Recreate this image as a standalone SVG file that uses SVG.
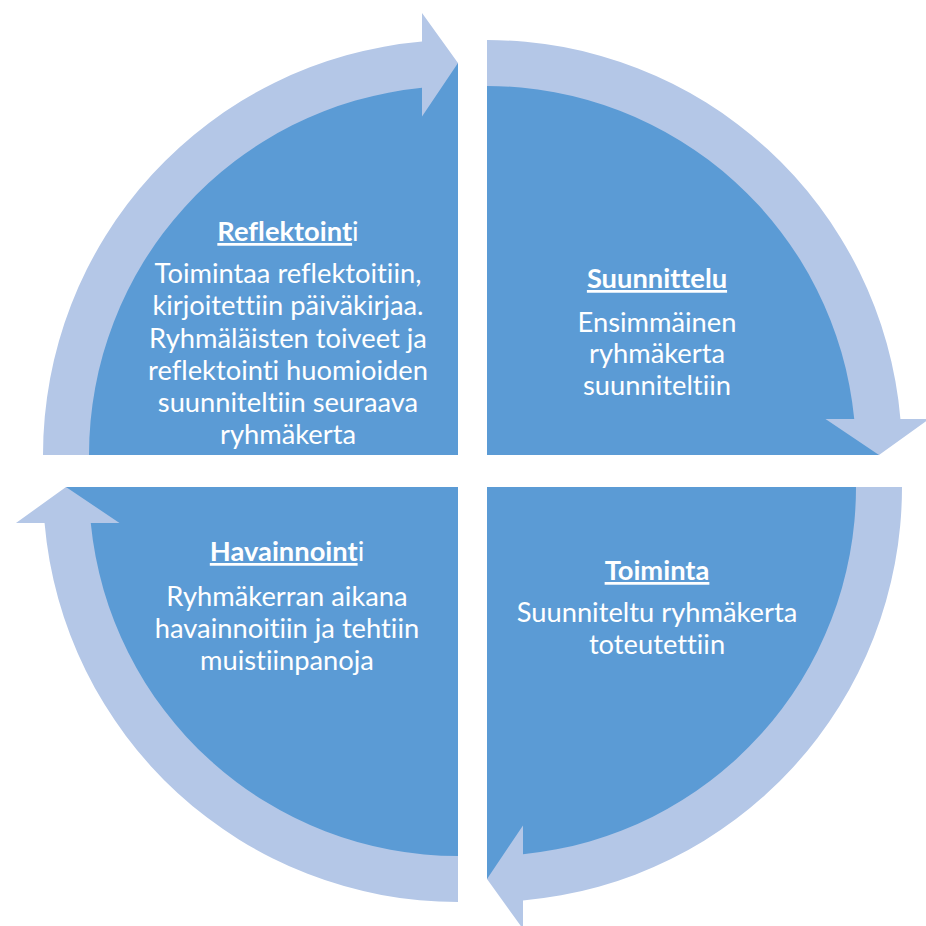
<svg xmlns="http://www.w3.org/2000/svg" xmlns:xlink="http://www.w3.org/1999/xlink" width="926" height="926" viewBox="0 0 926 926">
  <style>
    .pie { fill: #5B9BD5; }
    .arr { fill: #B4C7E7; }
    text { font-family: Lato, "Open Sans", "Liberation Sans", sans-serif; fill: #FFFFFF; text-anchor: middle; font-size: 27.3px; font-variant-ligatures: none; }
    .t { font-weight: bold; text-decoration: underline; }
    .r { font-weight: normal; text-decoration: none; }
  </style>
  <defs>
    <path id="pie" class="pie" d="M0,0 H-392 A392,392 0 0 1 0,-392 Z"/>
    <path id="arrow" class="arr" d="M-415,0 A415,415 0 0 1 -36,-413.44 L-36,-442 L0,-392 L-36,-338.5 L-36,-367.24 A369,369 0 0 0 -369,0 Z"/>
  </defs>

  <g id="node-reflektointi">
    <use xlink:href="#pie" transform="translate(458,455)"/>
    <text x="288" y="241"><tspan class="t">Reflektoint</tspan><tspan class="r">i</tspan></text>
    <text x="288" y="283">Toimintaa reflektoitiin,</text>
    <text x="288" y="315">kirjoitettiin päiväkirjaa.</text>
    <text x="288" y="348">Ryhmäläisten toiveet ja</text>
    <text x="288" y="380">reflektointi huomioiden</text>
    <text x="288" y="412">suunniteltiin seuraava</text>
    <text x="288" y="444">ryhmäkerta</text>
  </g>

  <g id="node-suunnittelu">
    <use xlink:href="#pie" transform="translate(487,455) rotate(90)"/>
    <text x="657" y="288" class="t">Suunnittelu</text>
    <text x="657" y="332">Ensimmäinen</text>
    <text x="657" y="363">ryhmäkerta</text>
    <text x="657" y="395">suunniteltiin</text>
  </g>

  <g id="node-toiminta">
    <use xlink:href="#pie" transform="translate(487,487) rotate(180)"/>
    <text x="657" y="580" class="t">Toiminta</text>
    <text x="657" y="622">Suunniteltu ryhmäkerta</text>
    <text x="657" y="654">toteutettiin</text>
  </g>

  <g id="node-havainnointi">
    <use xlink:href="#pie" transform="translate(458,487) rotate(270)"/>
    <text x="287" y="561"><tspan class="t">Havainnoint</tspan><tspan class="r">i</tspan></text>
    <text x="287" y="606">Ryhmäkerran aikana</text>
    <text x="287" y="638">havainnoitiin ja tehtiin</text>
    <text x="287" y="670">muistiinpanoja</text>
  </g>

  <g id="connectors">
    <use xlink:href="#arrow" transform="translate(458,455)"/>
    <use xlink:href="#arrow" transform="translate(487,455) rotate(90)"/>
    <use xlink:href="#arrow" transform="translate(487,487) rotate(180)"/>
    <use xlink:href="#arrow" transform="translate(458,487) rotate(270)"/>
  </g>
</svg>
